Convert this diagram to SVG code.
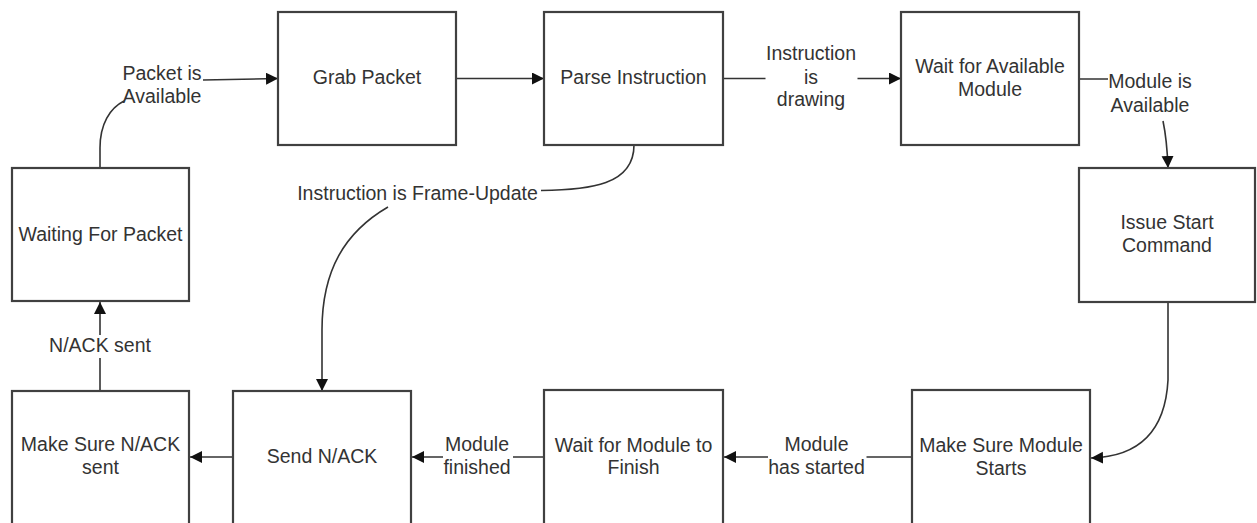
<svg xmlns="http://www.w3.org/2000/svg" width="1257" height="523" viewBox="0 0 1257 523">
<style>
.box{fill:#ffffff;stroke:#404040;stroke-width:2.2}
.t{font-family:"Liberation Sans",Arial,sans-serif;font-size:19.5px;fill:#333333;text-anchor:middle}
.ca{fill:none;stroke:#333333;stroke-width:1.6;marker-end:url(#ah)}
</style>
<defs>
<marker id="ah" markerUnits="userSpaceOnUse" markerWidth="14" markerHeight="14" refX="12" refY="6" orient="auto">
<path d="M0,0 L12,6 L0,12 z" fill="#111111"/>
</marker>
</defs>
<rect width="1257" height="523" fill="#ffffff"/>
<g id="connectors">
<path class="ca" d="M100,168 L100,148 C100,124 110,108 124,101 M203,80 L278,78.5"/>
<path class="ca" d="M456,78.5 L544,78.5"/>
<path class="ca" d="M723,78.5 L765.5,78.5 M857.5,78.5 L901,78.5"/>
<path class="ca" d="M1079,79 L1108,79 M1163,121 Q1167,140 1168,168"/>
<path class="ca" d="M1168,302 L1168,380 Q1164,456 1091,458"/>
<path class="ca" d="M912,457 L866.5,457 M768,457 L724,457"/>
<path class="ca" d="M544,457 L513,457 M443,457 L412,457"/>
<path class="ca" d="M233,457 L190,457"/>
<path class="ca" d="M100,391 L100,358 M100,335 L100,302"/>
<path class="ca" d="M634,145 C634,185 590,190 541,190.5 M388,207 C345,232 322,270 322,330 L322,391"/>
</g>
<g id="label-packet-available"><text class="t" x="162" y="80">Packet is</text><text class="t" x="162" y="102.7">Available</text></g>
<g id="label-instruction-drawing"><text class="t" x="811" y="60">Instruction</text><text class="t" x="811" y="84">is</text><text class="t" x="811" y="105.5">drawing</text></g>
<g id="label-module-available"><text class="t" x="1150" y="87.5">Module is</text><text class="t" x="1150" y="112">Available</text></g>
<g id="label-frame-update"><text class="t" x="417.5" y="199.5">Instruction is Frame-Update</text></g>
<g id="label-module-started"><text class="t" x="816.5" y="450.7">Module</text><text class="t" x="816.5" y="474">has started</text></g>
<g id="label-module-finished"><text class="t" x="477" y="450.7">Module</text><text class="t" x="477" y="474">finished</text></g>
<g id="label-nack-sent"><text class="t" x="100" y="351.7">N/ACK sent</text></g>
<g id="node-grab-packet"><rect class="box" x="278" y="12" width="178" height="133"/><text class="t" x="367" y="84">Grab Packet</text></g>
<g id="node-parse-instruction"><rect class="box" x="544" y="12" width="179" height="133"/><text class="t" x="633.5" y="84">Parse Instruction</text></g>
<g id="node-wait-available"><rect class="box" x="901" y="12" width="178" height="133"/><text class="t" x="990" y="72.5">Wait for Available</text><text class="t" x="990" y="95.5">Module</text></g>
<g id="node-issue-start"><rect class="box" x="1079" y="168" width="176" height="134"/><text class="t" x="1167" y="228.5">Issue Start</text><text class="t" x="1167" y="251.7">Command</text></g>
<g id="node-waiting-packet"><rect class="box" x="12" y="168" width="177" height="133"/><text class="t" x="100.5" y="240.7">Waiting For Packet</text></g>
<g id="node-make-sure-nack"><rect class="box" x="12" y="391" width="177" height="145"/><text class="t" x="100.5" y="450.7">Make Sure N/ACK</text><text class="t" x="100.5" y="474">sent</text></g>
<g id="node-send-nack"><rect class="box" x="233" y="391" width="178" height="145"/><text class="t" x="322" y="463.3">Send N/ACK</text></g>
<g id="node-wait-finish"><rect class="box" x="544" y="390" width="179" height="146"/><text class="t" x="633.5" y="451.7">Wait for Module to</text><text class="t" x="633.5" y="474.3">Finish</text></g>
<g id="node-make-sure-starts"><rect class="box" x="912" y="390" width="178" height="146"/><text class="t" x="1001" y="451.7">Make Sure Module</text><text class="t" x="1001" y="475">Starts</text></g>
</svg>
